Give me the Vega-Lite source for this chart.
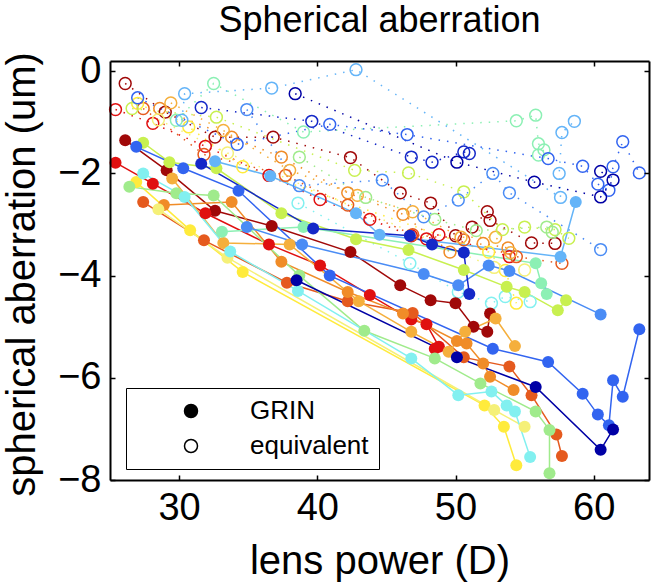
{
"$schema":"https://vega.github.io/schema/vega-lite/v6.json",
"width":539,"height":419,
"autosize":{"type":"none"},
"padding":{"left":110,"top":61,"right":2,"bottom":102},
"background":"white",
"title":{"text":"Spherical aberration","font":"Liberation Sans","fontSize":36,"fontWeight":"normal","color":"black","anchor":"middle","frame":"group","offset":12},
"config":{"view":{"stroke":null}},
"datasets":{
"grin":[
{"s":"A","i":1,"x":26.1,"y":-1.35},{"s":"A","i":2,"x":29.1,"y":-1.94},{"s":"A","i":3,"x":32.6,"y":-2.73},{"s":"A","i":4,"x":36.7,"y":-3.03},{"s":"A","i":5,"x":42.4,"y":-3.54},{"s":"A","i":6,"x":46.0,"y":-4.19},{"s":"A","i":7,"x":48.2,"y":-4.48},{"s":"A","i":8,"x":50.0,"y":-4.54},{"s":"A","i":9,"x":51.3,"y":-5.00},{"s":"A","i":10,"x":52.3,"y":-5.10},{"s":"A","i":11,"x":52.5,"y":-4.74},
{"s":"B","i":1,"x":25.4,"y":-1.79},{"s":"B","i":2,"x":28.1,"y":-2.20},{"s":"B","i":3,"x":31.9,"y":-2.78},{"s":"B","i":4,"x":36.5,"y":-3.39},{"s":"B","i":5,"x":40.2,"y":-3.80},{"s":"B","i":6,"x":43.8,"y":-4.38},{"s":"B","i":7,"x":46.8,"y":-4.86},{"s":"B","i":8,"x":47.9,"y":-4.95},{"s":"B","i":9,"x":48.8,"y":-5.39},{"s":"B","i":10,"x":48.5,"y":-5.43},
{"s":"C","i":1,"x":27.4,"y":-2.56},{"s":"C","i":2,"x":31.8,"y":-3.31},{"s":"C","i":3,"x":37.8,"y":-4.14},{"s":"C","i":4,"x":42.2,"y":-4.50},{"s":"C","i":5,"x":46.9,"y":-4.73},{"s":"C","i":6,"x":50.6,"y":-5.60},{"s":"C","i":7,"x":53.9,"y":-5.78},{"s":"C","i":8,"x":55.5,"y":-6.34},{"s":"C","i":9,"x":57.3,"y":-7.11},{"s":"C","i":10,"x":57.7,"y":-7.53},
{"s":"D","i":1,"x":28.9,"y":-2.62},{"s":"D","i":2,"x":33.8,"y":-2.56},{"s":"D","i":3,"x":37.4,"y":-3.73},{"s":"D","i":4,"x":42.2,"y":-4.32},{"s":"D","i":5,"x":46.2,"y":-4.74},{"s":"D","i":6,"x":50.1,"y":-5.28},{"s":"D","i":7,"x":50.8,"y":-5.33},{"s":"D","i":8,"x":52.0,"y":-5.72},{"s":"D","i":9,"x":52.5,"y":-5.98},{"s":"D","i":10,"x":54.2,"y":-6.24},
{"s":"E","i":1,"x":29.5,"y":-2.10},{"s":"E","i":2,"x":33.2,"y":-3.36},{"s":"E","i":3,"x":38.0,"y":-3.39},{"s":"E","i":4,"x":43.0,"y":-4.50},{"s":"E","i":5,"x":46.8,"y":-5.10},{"s":"E","i":6,"x":49.5,"y":-5.49},{"s":"E","i":7,"x":50.7,"y":-5.10},{"s":"E","i":8,"x":52.9,"y":-4.84},{"s":"E","i":9,"x":54.3,"y":-5.38},
{"s":"G","i":1,"x":26.9,"y":-2.17},{"s":"G","i":2,"x":30.8,"y":-3.11},{"s":"G","i":3,"x":34.6,"y":-3.93},{"s":"G","i":4,"x":52.1,"y":-6.54},{"s":"G","i":5,"x":53.5,"y":-6.96},{"s":"G","i":6,"x":54.4,"y":-7.71},
{"s":"H","i":1,"x":28.5,"y":-2.70},{"s":"H","i":2,"x":33.5,"y":-3.65},{"s":"H","i":3,"x":52.8,"y":-6.63},{"s":"H","i":4,"x":55.0,"y":-6.96},
{"s":"I","i":1,"x":27.4,"y":-1.40},{"s":"I","i":2,"x":29.3,"y":-1.78},{"s":"I","i":3,"x":32.7,"y":-1.90},{"s":"I","i":4,"x":37.4,"y":-2.78},{"s":"I","i":5,"x":42.8,"y":-3.29},{"s":"I","i":6,"x":46.6,"y":-3.50},{"s":"I","i":7,"x":50.6,"y":-3.89},{"s":"I","i":8,"x":53.7,"y":-4.22},{"s":"I","i":9,"x":55.0,"y":-4.32},{"s":"I","i":10,"x":57.4,"y":-4.68},{"s":"I","i":11,"x":58.0,"y":-4.48},
{"s":"J","i":1,"x":26.4,"y":-2.26},{"s":"J","i":2,"x":29.8,"y":-2.39},{"s":"J","i":3,"x":32.5,"y":-2.43},{"s":"J","i":4,"x":38.7,"y":-4.00},{"s":"J","i":5,"x":43.4,"y":-5.08},{"s":"J","i":6,"x":48.5,"y":-5.62},{"s":"J","i":7,"x":51.8,"y":-6.11},{"s":"J","i":8,"x":55.8,"y":-6.66},{"s":"J","i":9,"x":56.8,"y":-7.02},{"s":"J","i":10,"x":56.8,"y":-7.87},
{"s":"K","i":1,"x":33.1,"y":-3.14},{"s":"K","i":2,"x":39.0,"y":-3.05},{"s":"K","i":3,"x":55.8,"y":-3.76},{"s":"K","i":4,"x":56.2,"y":-4.15},{"s":"K","i":5,"x":56.6,"y":-4.36},
{"s":"L","i":1,"x":27.4,"y":-2.00},{"s":"L","i":2,"x":30.4,"y":-2.46},{"s":"L","i":3,"x":33.7,"y":-3.53},{"s":"L","i":4,"x":38.6,"y":-4.30},{"s":"L","i":5,"x":46.8,"y":-5.62},{"s":"L","i":6,"x":50.2,"y":-6.34},{"s":"L","i":7,"x":52.6,"y":-6.27},{"s":"L","i":8,"x":53.7,"y":-6.54},{"s":"L","i":9,"x":54.3,"y":-6.66},{"s":"L","i":10,"x":55.4,"y":-7.55},
{"s":"M","i":1,"x":32.6,"y":-1.76},{"s":"M","i":2,"x":36.6,"y":-2.05},{"s":"M","i":3,"x":42.8,"y":-2.78},{"s":"M","i":4,"x":44.5,"y":-3.20},{"s":"M","i":5,"x":57.6,"y":-3.63},{"s":"M","i":6,"x":58.7,"y":-2.56},
{"s":"O","i":1,"x":26.9,"y":-1.48},{"s":"O","i":2,"x":30.3,"y":-1.90},{"s":"O","i":3,"x":34.3,"y":-2.34},{"s":"O","i":4,"x":40.9,"y":-4.00},{"s":"O","i":5,"x":52.7,"y":-5.43},{"s":"O","i":6,"x":56.7,"y":-5.69},{"s":"O","i":7,"x":59.2,"y":-6.31},{"s":"O","i":8,"x":60.3,"y":-6.72},{"s":"O","i":9,"x":61.1,"y":-6.93},{"s":"O","i":10,"x":61.4,"y":-6.05},{"s":"O","i":11,"x":62.1,"y":-6.37},{"s":"O","i":12,"x":63.3,"y":-5.05},
{"s":"P","i":1,"x":34.9,"y":-3.05},{"s":"P","i":2,"x":38.9,"y":-3.39},{"s":"P","i":3,"x":47.7,"y":-3.97},{"s":"P","i":4,"x":50.2,"y":-4.19},{"s":"P","i":5,"x":52.4,"y":-3.80},{"s":"P","i":6,"x":53.9,"y":-3.91},{"s":"P","i":7,"x":60.5,"y":-4.76},
{"s":"Q","i":1,"x":31.6,"y":-1.81},{"s":"Q","i":2,"x":39.7,"y":-3.08},{"s":"Q","i":3,"x":46.7,"y":-3.22},{"s":"Q","i":4,"x":48.3,"y":-3.39},{"s":"Q","i":5,"x":50.6,"y":-3.55},{"s":"Q","i":6,"x":51.0,"y":-4.36},
{"s":"R","i":1,"x":38.5,"y":-4.09},{"s":"R","i":2,"x":50.1,"y":-5.60},{"s":"R","i":3,"x":55.8,"y":-6.18},{"s":"R","i":4,"x":60.5,"y":-7.41},{"s":"R","i":5,"x":61.4,"y":-7.01}
],
"equiv":[
{"s":"A","i":1,"x":26.1,"y":-0.24},{"s":"A","i":2,"x":29.0,"y":-0.80},{"s":"A","i":3,"x":32.6,"y":-1.29},{"s":"A","i":4,"x":36.8,"y":-1.29},{"s":"A","i":5,"x":42.4,"y":-1.69},{"s":"A","i":6,"x":46.0,"y":-2.38},{"s":"A","i":7,"x":48.2,"y":-2.58},{"s":"A","i":8,"x":50.0,"y":-3.22},{"s":"A","i":9,"x":51.2,"y":-3.05},{"s":"A","i":10,"x":52.3,"y":-2.75},{"s":"A","i":11,"x":52.5,"y":-2.92},{"s":"A","i":12,"x":55.5,"y":-3.36},{"s":"A","i":13,"x":57.2,"y":-3.37},
{"s":"B","i":1,"x":25.4,"y":-0.75},{"s":"B","i":2,"x":28.1,"y":-1.02},{"s":"B","i":3,"x":31.9,"y":-1.47},{"s":"B","i":4,"x":36.5,"y":-2.04},{"s":"B","i":5,"x":40.2,"y":-2.51},{"s":"B","i":6,"x":43.8,"y":-2.90},{"s":"B","i":7,"x":46.8,"y":-3.22},{"s":"B","i":8,"x":47.9,"y":-3.28},{"s":"B","i":9,"x":48.8,"y":-3.20},{"s":"B","i":10,"x":53.9,"y":-3.63},
{"s":"C","i":1,"x":27.4,"y":-0.73},{"s":"C","i":2,"x":31.8,"y":-1.63},{"s":"C","i":3,"x":37.7,"y":-2.04},{"s":"C","i":4,"x":42.2,"y":-2.62},{"s":"C","i":5,"x":46.9,"y":-3.20},{"s":"C","i":6,"x":50.6,"y":-3.30},{"s":"C","i":7,"x":54.4,"y":-3.63},{"s":"C","i":8,"x":57.7,"y":-3.76},
{"s":"D","i":1,"x":28.6,"y":-0.73},{"s":"D","i":2,"x":33.8,"y":-1.29},{"s":"D","i":3,"x":37.4,"y":-1.68},{"s":"D","i":4,"x":42.2,"y":-2.38},{"s":"D","i":5,"x":46.2,"y":-2.80},{"s":"D","i":6,"x":49.6,"y":-3.54},{"s":"D","i":7,"x":52.0,"y":-3.37},{"s":"D","i":8,"x":53.8,"y":-3.46},
{"s":"E","i":1,"x":29.4,"y":-0.62},{"s":"E","i":2,"x":33.2,"y":-1.16},{"s":"E","i":3,"x":38.0,"y":-1.94},{"s":"E","i":4,"x":42.9,"y":-2.43},{"s":"E","i":5,"x":46.9,"y":-2.75},{"s":"E","i":6,"x":50.4,"y":-3.25},{"s":"E","i":7,"x":52.9,"y":-3.25},{"s":"E","i":8,"x":54.0,"y":-3.55},
{"s":"G","i":1,"x":27.0,"y":-0.63},{"s":"G","i":2,"x":30.7,"y":-1.09},{"s":"G","i":3,"x":34.6,"y":-1.87},{"s":"G","i":4,"x":52.4,"y":-3.54},{"s":"G","i":5,"x":53.6,"y":-3.90},{"s":"G","i":6,"x":54.4,"y":-4.54},
{"s":"H","i":1,"x":28.5,"y":-0.95},{"s":"H","i":2,"x":33.5,"y":-1.60},{"s":"H","i":3,"x":52.8,"y":-3.84},{"s":"H","i":4,"x":55.0,"y":-3.89},
{"s":"I","i":1,"x":26.6,"y":-0.73},{"s":"I","i":2,"x":32.7,"y":-0.90},{"s":"I","i":3,"x":42.7,"y":-1.94},{"s":"I","i":4,"x":46.6,"y":-1.99},{"s":"I","i":5,"x":50.6,"y":-2.36},{"s":"I","i":6,"x":53.4,"y":-3.10},{"s":"I","i":7,"x":55.0,"y":-3.05},{"s":"I","i":8,"x":57.2,"y":-3.10},{"s":"I","i":9,"x":58.2,"y":-3.27},
{"s":"J","i":1,"x":38.7,"y":-1.68},{"s":"J","i":2,"x":43.5,"y":-2.47},{"s":"J","i":3,"x":48.5,"y":-2.90},{"s":"J","i":4,"x":51.5,"y":-3.12},{"s":"J","i":5,"x":56.6,"y":-3.05},{"s":"J","i":6,"x":57.0,"y":-3.15},
{"s":"K","i":1,"x":29.8,"y":-0.96},{"s":"K","i":2,"x":32.5,"y":-0.24},{"s":"K","i":3,"x":39.0,"y":-1.19},{"s":"K","i":4,"x":54.4,"y":-0.97},{"s":"K","i":5,"x":55.8,"y":-0.86},{"s":"K","i":6,"x":56.0,"y":-1.42},{"s":"K","i":7,"x":56.4,"y":-1.54},{"s":"K","i":8,"x":56.0,"y":-1.64},
{"s":"L","i":1,"x":38.6,"y":-2.58},{"s":"L","i":2,"x":46.7,"y":-3.76},{"s":"L","i":3,"x":50.2,"y":-4.32},{"s":"L","i":4,"x":52.6,"y":-4.54},{"s":"L","i":5,"x":53.6,"y":-4.41},{"s":"L","i":6,"x":55.4,"y":-4.51},
{"s":"M","i":1,"x":30.2,"y":-0.96},{"s":"M","i":2,"x":30.4,"y":-0.44},{"s":"M","i":3,"x":36.7,"y":-0.33},{"s":"M","i":4,"x":42.8,"y":0.03},{"s":"M","i":5,"x":57.6,"y":-2.47},{"s":"M","i":6,"x":57.5,"y":-2.00},{"s":"M","i":7,"x":57.7,"y":-1.20},{"s":"M","i":8,"x":58.6,"y":-0.98},
{"s":"O","i":1,"x":27.0,"y":-0.52},{"s":"O","i":2,"x":34.2,"y":-1.43},{"s":"O","i":3,"x":40.9,"y":-1.04},{"s":"O","i":4,"x":46.5,"y":-1.24},{"s":"O","i":5,"x":56.7,"y":-1.71},{"s":"O","i":6,"x":59.2,"y":-1.86},{"s":"O","i":7,"x":60.3,"y":-2.21},{"s":"O","i":8,"x":61.1,"y":-2.33},{"s":"O","i":9,"x":61.4,"y":-1.87},{"s":"O","i":10,"x":62.1,"y":-1.38},{"s":"O","i":11,"x":63.3,"y":-1.99},
{"s":"P","i":1,"x":34.9,"y":-0.75},{"s":"P","i":2,"x":38.7,"y":-2.24},{"s":"P","i":3,"x":44.7,"y":-2.13},{"s":"P","i":4,"x":47.7,"y":-2.85},{"s":"P","i":5,"x":50.2,"y":-2.52},{"s":"P","i":6,"x":52.7,"y":-2.00},{"s":"P","i":7,"x":53.9,"y":-2.38},{"s":"P","i":8,"x":60.5,"y":-3.49},
{"s":"Q","i":1,"x":31.6,"y":-0.71},{"s":"Q","i":2,"x":39.6,"y":-0.98},{"s":"Q","i":3,"x":46.8,"y":-1.68},{"s":"Q","i":4,"x":48.3,"y":-1.78},{"s":"Q","i":5,"x":50.6,"y":-1.58},{"s":"Q","i":6,"x":51.0,"y":-1.61},
{"s":"R","i":1,"x":38.4,"y":-0.44},{"s":"R","i":2,"x":50.1,"y":-1.78},{"s":"R","i":3,"x":55.7,"y":-2.17},{"s":"R","i":4,"x":60.5,"y":-2.46},{"s":"R","i":5,"x":61.4,"y":-2.13},{"s":"R","i":6,"x":60.5,"y":-1.96}
],
"leg":[{"t":"GRIN","x":0,"y":0},{"t":"equivalent","x":0,"y":0}]
},
"layer":[
{"data":{"name":"equiv"},
 "mark":{"type":"line","strokeWidth":1.5,"strokeDash":[1.5,7]},
 "encoding":{
  "x":{"field":"x","type":"quantitative","scale":{"domain":[25,64],"nice":false,"zero":false},
   "axis":{"orient":"bottom","values":[30,40,50,60],"format":"d","title":"lens power (D)","grid":false,"tickSize":-5,"tickWidth":1.5,"tickColor":"black","domainColor":"black","domainWidth":2,"labelFont":"Liberation Sans","labelFontSize":38,"labelColor":"black","labelBaseline":"alphabetic","labelPadding":44,"labelFlush":false,"labelOverlap":false,"titleFont":"Liberation Sans","titleFontSize":40,"titleFontWeight":"normal","titleColor":"black","titleBaseline":"alphabetic","titleY":93,"zindex":1}},
  "y":{"field":"y","type":"quantitative","scale":{"domain":[-8,0.2],"nice":false,"zero":false},
   "axis":{"orient":"left","values":[-8,-6,-4,-2,0],"format":"d","title":"spherical aberration (um)","grid":false,"tickSize":-5,"tickWidth":1.5,"tickColor":"black","domainColor":"black","domainWidth":2,"labelFont":"Liberation Sans","labelFontSize":38,"labelColor":"black","labelBaseline":"middle","labelPadding":14,"labelFlush":false,"labelOverlap":false,"titleFont":"Liberation Sans","titleFontSize":40,"titleFontWeight":"normal","titleColor":"black","titleAngle":270,"titleBaseline":"alphabetic","titleAlign":"center","titleX":-76,"titleY":213,"zindex":1}},
  "color":{"field":"s","type":"nominal","scale":{"domain":["A","B","C","D","E","G","H","I","J","K","L","M","O","P","Q","R"],"range":["#A00808","#E01010","#E55A1E","#F08C28","#F5AF3C","#FFEB3C","#F5F078","#C8F050","#A0EB8C","#8CF0B4","#82F0F0","#64B4F8","#3264F0","#4A8CF5","#1428C8","#0000A5"]},"legend":null},
  "detail":{"field":"s"},
  "order":{"field":"i","type":"quantitative"}
 }},
{"data":{"name":"grin"},
 "mark":{"type":"line","strokeWidth":1.5},
 "encoding":{
  "x":{"field":"x","type":"quantitative","axis":null},
  "y":{"field":"y","type":"quantitative","axis":null},
  "color":{"field":"s","type":"nominal","legend":null},
  "order":{"field":"i","type":"quantitative"}
 }},
{"data":{"name":"equiv"},
 "mark":{"type":"point","filled":false,"strokeWidth":1.5,"size":140,"opacity":1},
 "encoding":{
  "x":{"field":"x","type":"quantitative","axis":null},
  "y":{"field":"y","type":"quantitative","axis":null},
  "color":{"field":"s","type":"nominal","legend":null}
 }},
{"data":{"name":"grin"},
 "mark":{"type":"point","filled":true,"size":144,"opacity":1},
 "encoding":{
  "x":{"field":"x","type":"quantitative","axis":null},
  "y":{"field":"y","type":"quantitative","axis":null},
  "color":{"field":"s","type":"nominal","legend":null}
 }},
{"data":{"name":"leg"},
 "mark":{"type":"point","filled":true,"stroke":"black","strokeWidth":1.5,"size":169,"shape":"circle","opacity":1,"clip":true},
 "encoding":{
  "x":{"field":"x","type":"quantitative","axis":{"orient":"top","values":[30,40,50,60],"labels":false,"title":null,"grid":false,"tickSize":-5,"tickWidth":1.5,"tickColor":"black","domainColor":"black","domainWidth":2,"zindex":1}},
  "y":{"field":"y","type":"quantitative","axis":{"orient":"right","values":[-8,-6,-4,-2,0],"labels":false,"title":null,"grid":false,"tickSize":-5,"tickWidth":1.5,"tickColor":"black","domainColor":"black","domainWidth":2,"zindex":1}},
  "fill":{"field":"t","type":"nominal","scale":{"domain":["GRIN","equivalent"],"range":["black","white"]},
   "legend":{"orient":"none","legendX":16,"legendY":327,"title":null,"strokeColor":"black","fillColor":"white","padding":10,"symbolType":"circle","symbolSize":169,"symbolStrokeColor":"black","symbolStrokeWidth":1.5,"symbolOpacity":1,"symbolOffset":42,"labelFont":"Liberation Sans","labelFontSize":26,"labelColor":"black","labelOffset":46,"rowPadding":9}}
 }}
],
"resolve":{"axis":{"x":"independent","y":"independent"}}
}
